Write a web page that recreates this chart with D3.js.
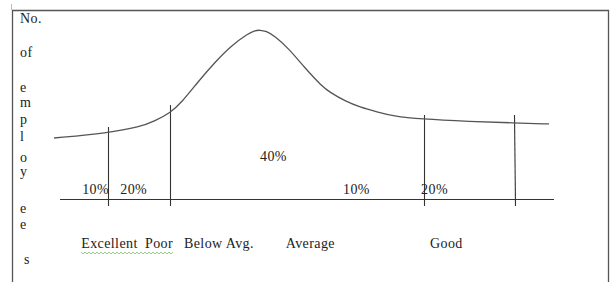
<!DOCTYPE html>
<html>
<head>
<meta charset="utf-8">
<script src="https://cdn.jsdelivr.net/npm/d3@7"></script>
<style>
  body { margin: 0; background: #fff; }
  svg text { font-family: "Liberation Serif", "DejaVu Serif", serif; font-size: 14px; letter-spacing: 0.4px; fill: #222; }
</style>
</head>
<body>
<svg width="612" height="282"></svg>
<script>
const width = 612;
const height = 282;

// curve of employees (score 0..100 along the baseline, relative count 0..100)
const curveX = [-1.2, 9.7, 16.2, 19.2, 22.3, 24.7, 27.9, 31.4, 34.8, 38.1, 39.3, 40.5, 41.7, 43.5, 46.2, 49.6, 53.0, 54.7, 57.7, 60.7, 64.2, 67.4, 72.9, 83.0, 91.9, 99.0];
const curveY = [36.1, 39.1, 42.6, 46.2, 50.9, 57.4, 69.2, 81.1, 91.1, 97.9, 99.6, 100, 99.4, 96.4, 89.3, 77.5, 66.8, 63.0, 58.0, 54.4, 51.5, 49.1, 47.3, 45.9, 45.0, 44.4];

// dividers between the groups
const dividerX = [9.7, 22.3, 73.7, 91.9];
const dividerTop = [42.6, 55.6, 49.7, 49.7];

// percentage labels
const pctLabels = ['10%', '20%', '40%', '10%', '20%'];
const pctX = [4.5, 12.2, 40.5, 57.3, 73.1];
const pctY = [3, 3, 22.5, 3, 3];

// group names under the baseline
const categories = ['Excellent', 'Poor', 'Below Avg.', 'Average', 'Good'];
const categoryX = [4.3, 17.2, 25.1, 45.7, 74.9];

// vertical axis title, one piece per line
const yTitle = ['No.', 'of', 'e', 'm', 'p', 'l', 'o', 'y', 'e', 'e', 's'];
const yTitleBase = [23, 57, 92, 107, 124, 141, 162, 176, 213, 229, 264];

const x = d3.scaleLinear().domain([0, 100]).range([60, 554]);
const y = d3.scaleLinear().domain([0, 100]).range([199, 30]);

const svg = d3.select('svg');

// frame
svg.append('path')
    .attr('d', `M12.5,${height} V10.5 H608.5 V${height}`)
    .attr('fill', 'none')
    .attr('stroke', '#555')
    .attr('stroke-width', 1.3);
svg.append('line')
    .attr('x1', 11.5).attr('x2', 11.5).attr('y1', 4).attr('y2', 10)
    .attr('stroke', '#bbb');

// baseline
svg.append('line')
    .attr('x1', x(0)).attr('x2', x(100))
    .attr('y1', y(0) + 0.5).attr('y2', y(0) + 0.5)
    .attr('stroke', '#333')
    .attr('stroke-width', 1.1);

// dividers
svg.selectAll('.divider')
    .data(dividerX)
    .join('line')
    .attr('class', 'divider')
    .attr('x1', d => Math.round(x(d)) + 0.5)
    .attr('x2', (d, i) => Math.round(x(d)) + 0.5 + (i === 3 ? 1 : 0))
    .attr('y1', (d, i) => y(dividerTop[i]))
    .attr('y2', y(0) + 7)
    .attr('stroke', '#333')
    .attr('stroke-width', 1.1);

// curve
const line = d3.line()
    .x(d => x(d[0]))
    .y(d => y(d[1]))
    .curve(d3.curveBasis);

svg.append('path')
    .datum(curveX.map((d, i) => [d, curveY[i]]))
    .attr('d', line)
    .attr('fill', 'none')
    .attr('stroke', '#555')
    .attr('stroke-width', 1.3);

// percentages
svg.selectAll('.pct')
    .data(pctLabels)
    .join('text')
    .attr('class', 'pct')
    .attr('x', (d, i) => x(pctX[i]))
    .attr('y', (d, i) => y(pctY[i]))
    .text(d => d);

// categories
svg.selectAll('.cat')
    .data(categories)
    .join('text')
    .attr('class', 'cat')
    .attr('x', (d, i) => x(categoryX[i]))
    .attr('y', 248)
    .text(d => d);

// spell-check squiggle under "Excellent Poor"
let squiggle = 'M81,252';
for (let px = 81, k = 0; px < 172; px += 2, k++) {
    squiggle += ` L${px + 2},${k % 2 ? 252 : 254}`;
}
svg.append('path')
    .attr('d', squiggle)
    .attr('fill', 'none')
    .attr('stroke', '#7bbf6a')
    .attr('stroke-width', 0.8);

// vertical title
svg.selectAll('.ytitle')
    .data(yTitle)
    .join('text')
    .attr('class', 'ytitle')
    .attr('x', (d, i) => i === yTitle.length - 1 ? 24 : 20)
    .attr('y', (d, i) => yTitleBase[i])
    .text(d => d);
</script>
</body>
</html>
